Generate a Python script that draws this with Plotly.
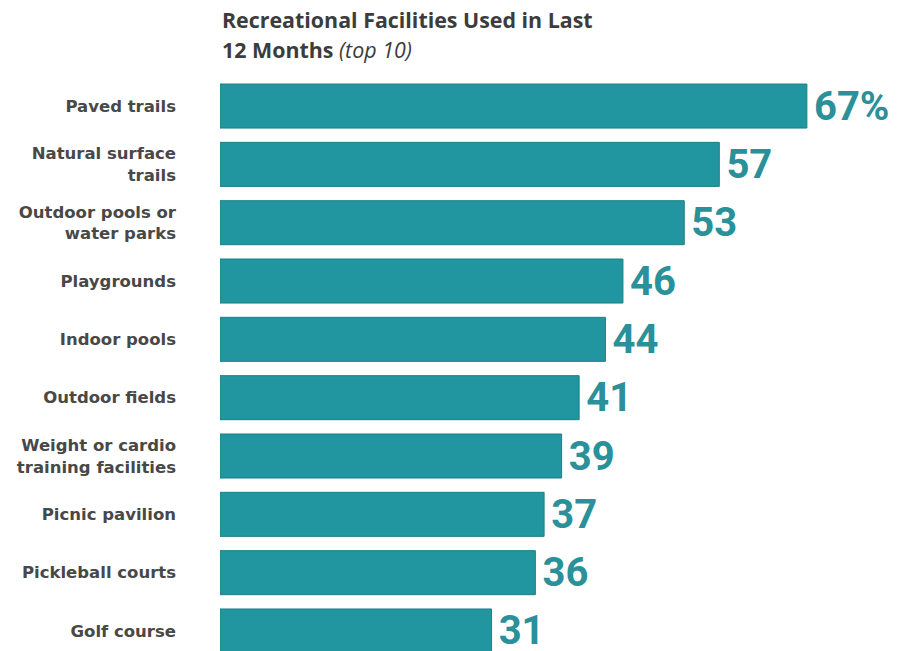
import plotly.graph_objects as go

# Recreational facilities used in the last 12 months (top 10), percent of respondents
facilities = [
    "Paved trails",
    "Natural surface<br>trails",
    "Outdoor pools or<br>water parks",
    "Playgrounds",
    "Indoor pools",
    "Outdoor fields",
    "Weight or cardio<br>training facilities",
    "Picnic pavilion",
    "Pickleball courts",
    "Golf course",
]
usage_pct = [67, 57, 53, 46, 44, 41, 39, 37, 36, 31]
value_labels = [f"{v}%" if i == 0 else f"{v}" for i, v in enumerate(usage_pct)]

TEAL = "#2196a0"
TEAL_EDGE = "#1b7f88"
LABEL_TEAL = "#2a9099"
GREY = "#484848"
TITLE_GREY = "#3c3c3c"

fig = go.Figure(
    go.Bar(
        x=usage_pct,
        y=facilities,
        orientation="h",
        width=0.755,
        marker=dict(color=TEAL, line=dict(color=TEAL_EDGE, width=1)),
        text=["\u200a" + t for t in value_labels],
        textposition="outside",
        constraintext="none",
        cliponaxis=False,
        textfont=dict(family="Roboto", size=40, color=LABEL_TEAL, weight="bold"),
        hoverinfo="skip",
    )
)

fig.update_layout(
    width=905,
    height=651,
    margin=dict(l=220, r=0, t=76, b=0),
    paper_bgcolor="white",
    plot_bgcolor="white",
    showlegend=False,
    xaxis=dict(range=[0, 78.2], visible=False, fixedrange=True),
    yaxis=dict(
        range=[9.343, -0.515],
        showgrid=False,
        zeroline=False,
        showline=False,
        ticks="",
        ticklabelstandoff=43,
        tickfont=dict(family="DejaVu Sans", size=16.5, color=GREY, weight="bold"),
        fixedrange=True,
    ),
    annotations=[
        dict(
            text="<b>Recreational Facilities Used in Last</b>",
            xref="paper", yref="paper", x=0, y=1, yshift=73,
            xanchor="left", yanchor="top", showarrow=False,
            font=dict(family="Open Sans", size=21.4, color=TITLE_GREY),
        ),
        dict(
            text="<b>12 Months</b> <i>(top 10)</i>",
            xref="paper", yref="paper", x=0, y=1, yshift=43,
            xanchor="left", yanchor="top", showarrow=False,
            font=dict(family="Open Sans", size=21.4, color=TITLE_GREY),
        ),
    ],
)

fig.write_html("out.html")
